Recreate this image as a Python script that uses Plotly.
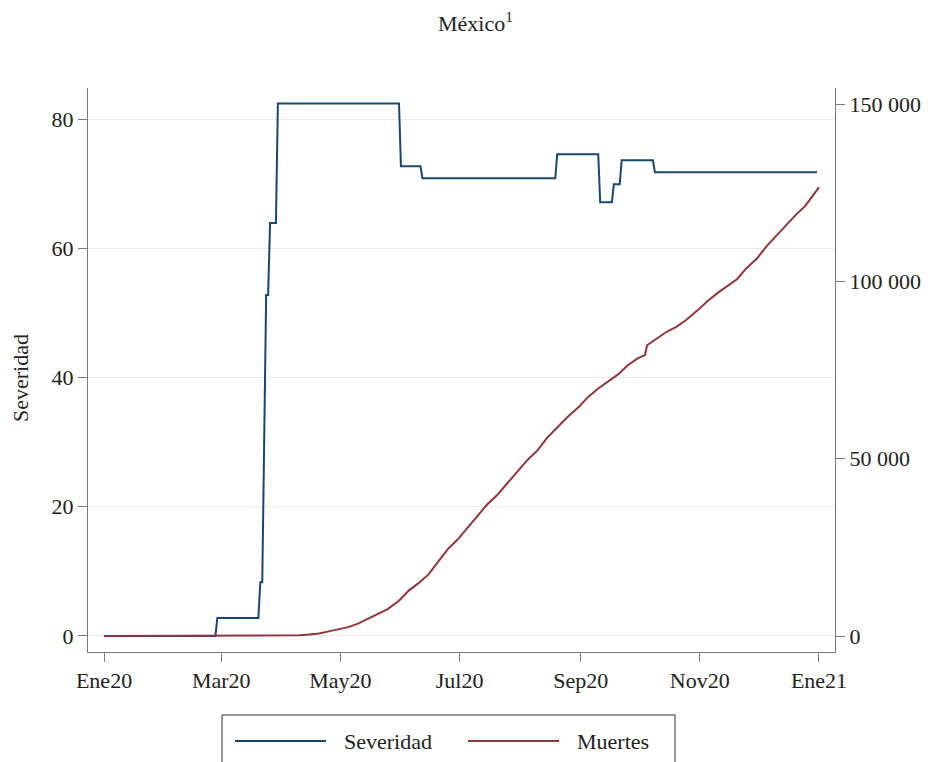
import plotly.graph_objects as go

# ---------------- data ----------------
sev_dates = ["2020-01-01", "2020-02-27", "2020-02-28", "2020-03-20", "2020-03-21",
             "2020-03-22", "2020-03-23", "2020-03-24", "2020-03-25", "2020-03-26",
             "2020-03-29", "2020-03-30", "2020-05-31", "2020-06-01", "2020-06-11",
             "2020-06-12", "2020-08-19", "2020-08-20", "2020-09-10", "2020-09-11",
             "2020-09-17", "2020-09-18", "2020-09-21", "2020-09-22", "2020-10-08",
             "2020-10-09", "2020-12-31"]
sev_values = [0, 0, 2.78, 2.78, 8.33,
              8.33, 30.5, 52.78, 52.78, 63.89,
              63.89, 82.41, 82.41, 72.69, 72.69,
              70.83, 70.83, 74.54, 74.54, 67.13,
              67.13, 69.91, 69.91, 73.61, 73.61,
              71.76, 71.76]

death_dates = ["2020-01-01", "2020-03-17", "2020-03-31", "2020-04-10", "2020-04-15",
               "2020-04-20", "2020-04-25", "2020-04-30", "2020-05-05", "2020-05-10",
               "2020-05-15", "2020-05-20", "2020-05-25", "2020-05-31", "2020-06-05",
               "2020-06-10", "2020-06-15", "2020-06-20", "2020-06-25", "2020-06-30",
               "2020-07-05", "2020-07-10", "2020-07-15", "2020-07-20", "2020-07-25",
               "2020-07-31", "2020-08-05", "2020-08-10", "2020-08-15", "2020-08-20",
               "2020-08-25", "2020-08-31", "2020-09-05", "2020-09-10", "2020-09-15",
               "2020-09-20", "2020-09-25", "2020-09-30", "2020-10-04", "2020-10-05",
               "2020-10-10", "2020-10-15", "2020-10-20", "2020-10-25", "2020-10-31",
               "2020-11-05", "2020-11-10", "2020-11-15", "2020-11-20", "2020-11-25",
               "2020-11-30", "2020-12-05", "2020-12-10", "2020-12-15", "2020-12-20",
               "2020-12-25", "2020-12-31", "2021-01-01"]
death_values = [0, 0, 30, 200, 410,
                710, 1300, 1900, 2500, 3500,
                4800, 6200, 7500, 9950, 12800,
                14900, 17300, 20900, 24500, 27200,
                30400, 33600, 37000, 39600, 42800,
                46800, 49800, 52400, 56000, 58800,
                61600, 64600, 67500, 69800, 71800,
                73700, 76300, 78200, 79300, 82000,
                83900, 85800, 87200, 89100, 91900,
                94500, 96700, 98600, 100600, 103800,
                106300, 109800, 112800, 115800, 118700,
                121300, 125800, 126500]

x_tick_vals = ["2020-01-01", "2020-03-01", "2020-05-01", "2020-07-01",
               "2020-09-01", "2020-11-01", "2021-01-01"]
x_tick_text = ["Ene20", "Mar20", "May20", "Jul20", "Sep20", "Nov20", "Ene21"]
y1_ticks = [0, 20, 40, 60, 80]
y2_ticks = [0, 50000, 100000, 150000]
y2_text = ["0", "50 000", "100 000", "150 000"]

series_names = ["Severidad", "Muertes"]
colors = ["#1a476f", "#90353b"]

# ---------------- layout helpers ----------------
OFF = 8  # page body margin offset
W, H = 933 - OFF, 762 - OFF
L, R, T, B = 88 - OFF, 835 - OFF, 88 - OFF, 652 - OFF
FONT = "Liberation Serif"
TXT = "#222222"
AX = "#7a7a7a"


def px_x(px):
    return (px - OFF - L) / (R - L)


def px_y(py):
    return (B - (py - OFF)) / (B - T)


fig = go.Figure()
fig.add_trace(go.Scatter(x=sev_dates, y=sev_values, name=series_names[0],
                         mode="lines", line=dict(color=colors[0], width=2),
                         yaxis="y", showlegend=False))
fig.add_trace(go.Scatter(x=death_dates, y=death_values, name=series_names[1],
                         mode="lines", line=dict(color=colors[1], width=2),
                         yaxis="y2", showlegend=False))

fig.update_layout(
    width=W, height=H,
    margin=dict(l=L, r=W - R, t=T, b=H - B, autoexpand=False),
    paper_bgcolor="white", plot_bgcolor="white",
    font=dict(family=FONT, size=22, color=TXT),
    xaxis=dict(type="date", range=["2019-12-23 19:00", "2021-01-09 05:00"],
               tickvals=x_tick_vals, ticktext=x_tick_text,
               showgrid=False, zeroline=False, showline=True, linecolor=AX, linewidth=1,
               ticks="outside", ticklen=9, tickcolor=AX, tickwidth=1,
               tickfont=dict(size=22, color=TXT)),
    yaxis=dict(range=[-2.48, 84.8], tickvals=y1_ticks,
               showgrid=True, gridcolor="#e4eded", gridwidth=1, zeroline=False,
               showline=True, linecolor=AX, linewidth=1,
               ticks="outside", ticklen=9, tickcolor=AX, tickwidth=1,
               tickfont=dict(size=22, color=TXT)),
    yaxis2=dict(range=[-4512, 154540], tickvals=y2_ticks, ticktext=y2_text,
                overlaying="y", side="right", showgrid=False, zeroline=False,
                showline=True, linecolor=AX, linewidth=1,
                ticks="outside", ticklen=9, tickcolor=AX, tickwidth=1,
                tickfont=dict(size=22, color=TXT)),
)

# title and y title
fig.add_annotation(text="México<sup>1</sup>", xref="paper", yref="paper",
                   x=px_x(475), y=px_y(22), xanchor="center", yanchor="middle",
                   showarrow=False, font=dict(size=22, color=TXT))
fig.add_annotation(text="Severidad", xref="paper", yref="paper",
                   x=px_x(20), y=px_y(378), xanchor="center", yanchor="middle",
                   textangle=-90, showarrow=False, font=dict(size=22, color=TXT))

# legend (drawn)
fig.add_shape(type="rect", xref="paper", yref="paper",
              x0=px_x(222), x1=px_x(675), y0=px_y(715), y1=px_y(790),
              line=dict(color="#333333", width=1), fillcolor="rgba(0,0,0,0)")
leg_items = [(235, 326, 342), (468, 559, 575)]
for (lx0, lx1, tx), name, col in zip(leg_items, series_names, colors):
    fig.add_shape(type="line", xref="paper", yref="paper",
                  x0=px_x(lx0), x1=px_x(lx1), y0=px_y(741), y1=px_y(741),
                  line=dict(color=col, width=2))
    fig.add_annotation(text=name, xref="paper", yref="paper",
                       x=px_x(tx), y=px_y(741), xanchor="left", yanchor="middle",
                       showarrow=False, font=dict(size=22, color=TXT))

fig.write_html("out.html")
